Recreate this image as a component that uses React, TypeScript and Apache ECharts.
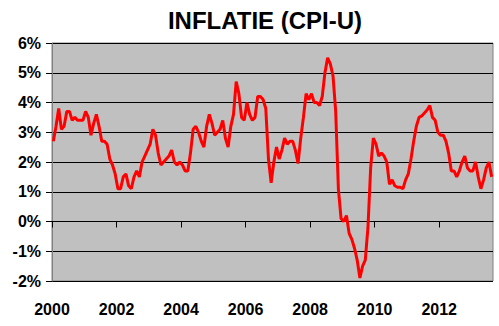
import React, { useEffect, useRef } from "react";
import * as echarts from "echarts";

// Monthly CPI-U year-over-year inflation (%), Jan 2000 – Aug 2013
const y2000 = [2.7, 3.2, 3.8, 3.1, 3.2, 3.7, 3.7, 3.4, 3.5, 3.4, 3.4, 3.4];
const y2001 = [3.7, 3.5, 2.9, 3.3, 3.6, 3.2, 2.7, 2.7, 2.6, 2.1, 1.9, 1.6];
const y2002 = [1.1, 1.1, 1.5, 1.6, 1.2, 1.1, 1.5, 1.7, 1.5, 2.0, 2.2, 2.4];
const y2003 = [2.6, 3.1, 2.9, 2.3, 1.9, 2.0, 2.1, 2.2, 2.4, 2.0, 1.9, 2.0];
const y2004 = [1.9, 1.7, 1.7, 2.3, 3.1, 3.2, 3.0, 2.7, 2.5, 3.2, 3.6, 3.3];
const y2005 = [2.9, 3.0, 3.1, 3.4, 2.8, 2.5, 3.2, 3.6, 4.7, 4.3, 3.5, 3.4];
const y2006 = [4.0, 3.6, 3.4, 3.5, 4.2, 4.2, 4.1, 3.8, 2.1, 1.3, 2.0, 2.5];
const y2007 = [2.1, 2.4, 2.8, 2.6, 2.7, 2.7, 2.4, 1.95, 2.8, 3.5, 4.3, 4.1];
const y2008 = [4.3, 4.0, 4.0, 3.9, 4.2, 5.0, 5.5, 5.3, 4.9, 3.7, 1.1, 0.1];
const y2009 = [0.0, 0.2, -0.4, -0.6, -0.9, -1.3, -1.9, -1.5, -1.3, -0.2, 1.8, 2.8];
const y2010 = [2.6, 2.2, 2.3, 2.2, 2.0, 1.25, 1.4, 1.2, 1.15, 1.15, 1.1, 1.4];
const y2011 = [1.6, 2.1, 2.7, 3.2, 3.5, 3.55, 3.65, 3.75, 3.9, 3.5, 3.4, 3.0];
const y2012 = [2.9, 2.9, 2.7, 2.3, 1.7, 1.7, 1.5, 1.7, 2.0, 2.2, 1.8, 1.7];
const y2013 = [1.7, 2.0, 1.5, 1.1, 1.4, 1.8, 2.0, 1.5];

const startYear = 2000;
const yTicks = [-2, -1, 0, 1, 2, 3, 4, 5, 6];
const xTickYears = [2000, 2002, 2004, 2006, 2008, 2010, 2012];

const monthly = [
  ...y2000, ...y2001, ...y2002, ...y2003, ...y2004, ...y2005, ...y2006,
  ...y2007, ...y2008, ...y2009, ...y2010, ...y2011, ...y2012, ...y2013,
];

export default function App() {
  const ref = useRef<HTMLDivElement>(null);
  useEffect(() => {
    if (!ref.current) return;
    const chart = echarts.init(ref.current, null, { renderer: "svg" });
    const font = "'Liberation Sans', Arial, sans-serif";
    const n = monthly.length;
    chart.setOption({
      animation: false,
      backgroundColor: "#ffffff",
      title: {
        text: "INFLATIE (CPI-U)",
        left: 260,
        top: 3,
        textAlign: "center",
        textStyle: { fontFamily: font, fontSize: 24, fontWeight: "bold", color: "#000" },
      },
      grid: {
        left: 52,
        top: 43,
        width: 441,
        height: 238,
        show: true,
        backgroundColor: "#C0C0C0",
        borderColor: "#808080",
        borderWidth: 1,
      },
      xAxis: {
        type: "value",
        min: 0,
        max: n,
        interval: 24,
        axisLine: { show: true, lineStyle: { color: "#000", width: 1 } },
        axisTick: { show: true, length: 6, lineStyle: { color: "#000" } },
        splitLine: { show: false },
        axisLabel: {
          showMaxLabel: false,
          margin: 20,
          fontFamily: font,
          fontSize: 16,
          fontWeight: "bold",
          color: "#000",
          formatter: (v: number) => {
            const yr = startYear + v / 12;
            return xTickYears.includes(yr) ? String(yr) : "";
          },
        },
      },
      yAxis: {
        type: "value",
        min: yTicks[0],
        max: yTicks[yTicks.length - 1],
        interval: 1,
        axisLine: { show: true, lineStyle: { color: "#808080", width: 1 } },
        axisTick: { show: true, length: 6, lineStyle: { color: "#000" } },
        splitLine: { show: true, lineStyle: { color: "#000", width: 1 } },
        axisLabel: {
          margin: 11,
          fontFamily: font,
          fontSize: 16,
          fontWeight: "bold",
          color: "#000",
          formatter: (v: number) => `${v}%`,
        },
      },
      series: [
        {
          type: "line",
          data: monthly.map((v, i) => [i + 0.5, v]),
          showSymbol: false,
          symbol: "none",
          lineStyle: { color: "#FF0000", width: 3 },
          itemStyle: { color: "#FF0000" },
          clip: true,
        },
      ],
    });
    return () => chart.dispose();
  }, []);
  return (
    <div
      ref={ref}
      style={{ position: "fixed", left: 0, top: 0, width: 499, height: 326, background: "#fff" }}
    />
  );
}
